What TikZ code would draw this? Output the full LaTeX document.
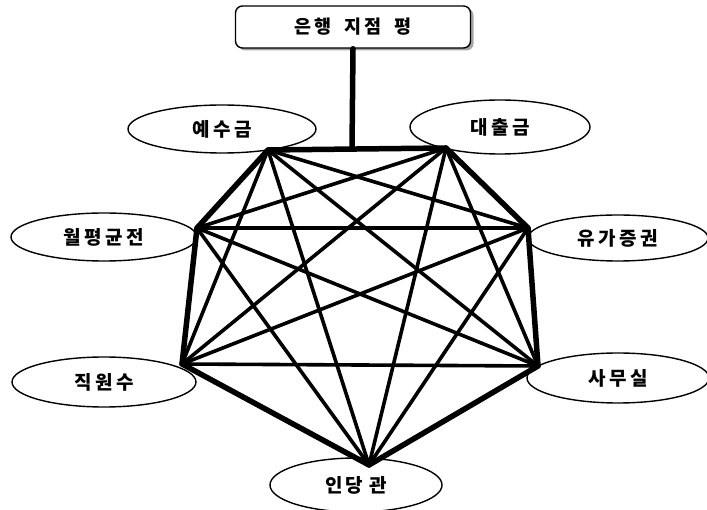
\documentclass[tikz,border=0pt]{standalone}
\usepackage{fontspec}
\setmainfont{Noto Sans CJK KR}
\newfontfamily\krsp[LetterSpace=18]{Noto Sans CJK KR}
\usetikzlibrary{shapes.geometric}
\begin{document}
\begin{tikzpicture}[x=1pt,y=-1pt,
  elli/.style={draw,ellipse,line width=1.4pt,inner sep=0pt,font=\krsp\bfseries\fontsize{19}{22}\selectfont},
  outer/.style={line width=5.5pt,line cap=round},
  inner/.style={line width=3.6pt,line cap=round},
  titlebox/.style={draw,rounded corners=7pt,line width=1.4pt,minimum width=235pt,minimum height=42pt,inner sep=0pt,font=\krsp\bfseries\fontsize{18.5}{22}\selectfont}]
\useasboundingbox (0,0) rectangle (707,510);
% hubs
\coordinate (A) at (268,150);
\coordinate (B) at (446,148);
\coordinate (C) at (197,228);
\coordinate (D) at (528,228);
\coordinate (E) at (182,364);
\coordinate (F) at (538,366);
\coordinate (G) at (369,465);
\coordinate (T) at (352,149);
% ellipses
\node[elli,minimum width=188pt,minimum height=48pt] (e1) at (222,129) {예수금};
\node[elli,minimum width=180pt,minimum height=54pt] (e2) at (500,127) {대출금};
\node[elli,minimum width=186pt,minimum height=48pt] (e3) at (104,237) {월평균전};
\node[elli,minimum width=180pt,minimum height=46pt] (e4) at (618,238) {유가증권};
\node[elli,minimum width=184pt,minimum height=50pt] (e5) at (104,382) {직원수};
\node[elli,minimum width=182pt,minimum height=50pt] (e6) at (618,378) {사무실};
\node[elli,minimum width=172pt,minimum height=54pt] (e7) at (356,485) {인당\hspace{6pt}관};
% title box with shadow
\fill[gray!70,rounded corners=7pt] (238.5,8.5) rectangle (473.5,50.5);
\node[titlebox,fill=white] (top) at (353,27) {은행\hspace{13pt}지점\hspace{13pt}평};
% connectors
\draw[outer] (top.south) -- (T);
\draw[outer] (A) -- (B);
\draw[outer] (B) -- (D);
\draw[outer] (D) -- (F);
\draw[outer] (F) -- (G);
\draw[outer] (G) -- (E);
\draw[outer] (E) -- (C);
\draw[outer] (C) -- (A);
\draw[inner] (A) -- (D);
\draw[inner] (A) -- (E);
\draw[inner] (A) -- (F);
\draw[inner] (A) -- (G);
\draw[inner] (B) -- (C);
\draw[inner] (B) -- (E);
\draw[inner] (B) -- (F);
\draw[inner] (B) -- (G);
\draw[inner] (C) -- (D);
\draw[inner] (C) -- (F);
\draw[inner] (C) -- (G);
\draw[inner] (D) -- (E);
\draw[inner] (D) -- (G);
\draw[inner] (E) -- (F);
\end{tikzpicture}
\end{document}
